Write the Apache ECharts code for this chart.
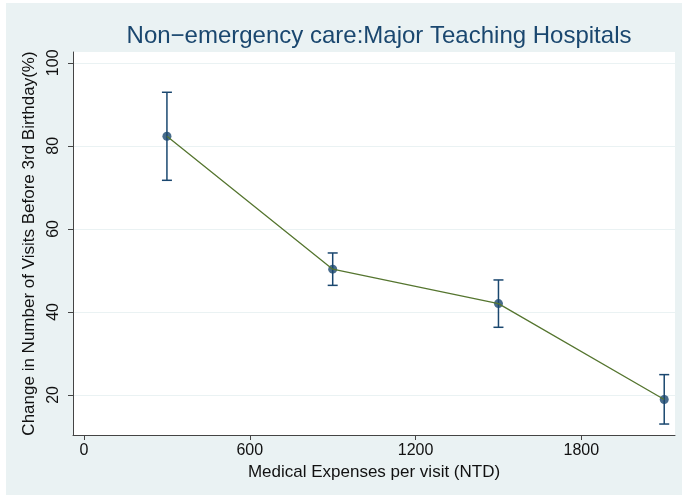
<!DOCTYPE html>
<html>
<head>
<meta charset="utf-8">
<script src="https://cdn.jsdelivr.net/npm/echarts@6/dist/echarts.min.js"></script>
<style>html,body{margin:0;padding:0;background:#fff;}#c{width:682px;height:501px;}</style>
</head>
<body>
<div id="c"></div>
<script>
var xValues = [300, 900, 1500, 2100];
var yValues = [82.3, 50.3, 42.0, 18.9];
var upperCI = [92.9, 54.2, 47.7, 24.9];
var lowerCI = [71.7, 46.4, 36.3, 13.0];
var xTicks = [0, 600, 1200, 1800];
var yTicks = [20, 40, 60, 80, 100];

var FONT = '"Liberation Sans", Arial, Helvetica, sans-serif';
var NAVY = '#1A476F';
var GREEN = '#55752F';

var pts = xValues.map(function (x, i) { return [x, yValues[i]]; });
var ci = xValues.map(function (x, i) { return [x, lowerCI[i], upperCI[i]]; });

var chart = echarts.init(document.getElementById('c'), null, {renderer: 'canvas'});
chart.setOption({
  backgroundColor: '#ffffff',
  animation: false,
  graphic: [{
    type: 'rect', z: -100, silent: true,
    shape: {x: 6, y: 3, width: 676, height: 492},
    style: {fill: '#EAF2F3'}
  }],
  title: {
    text: 'Non\u2212emergency care:Major Teaching Hospitals',
    left: 374, top: 19, textAlign: 'center',
    textStyle: {fontFamily: FONT, fontSize: 24, fontWeight: 'normal', color: NAVY}
  },
  grid: {left: 73, top: 52, right: 7, bottom: 66, show: true, backgroundColor: '#ffffff', borderWidth: 0, containLabel: false},
  xAxis: {
    type: 'value', min: -40, max: 2139,
    name: 'Medical Expenses per visit (NTD)', nameLocation: 'middle', nameGap: 24,
    nameTextStyle: {fontFamily: FONT, fontSize: 17, color: '#111'},
    axisLine: {show: true, onZero: false, lineStyle: {color: '#444', width: 1}},
    axisTick: {show: true, length: 5, customValues: xTicks, lineStyle: {color: '#444'}},
    axisLabel: {customValues: xTicks, fontFamily: FONT, fontSize: 16, color: '#111', margin: 8,
      formatter: function (v) { return String(v); }},
    splitLine: {show: false}
  },
  yAxis: {
    type: 'value', min: 10.36, max: 102.6,
    name: 'Change in Number of Visits Before 3rd Birthday(%)', nameLocation: 'middle', nameGap: 30,
    nameTextStyle: {fontFamily: FONT, fontSize: 17, color: '#111'},
    axisLine: {show: true, onZero: false, lineStyle: {color: '#444', width: 1}},
    axisTick: {show: true, length: 5, customValues: yTicks, lineStyle: {color: '#444'}},
    axisLabel: {customValues: yTicks, rotate: 90, fontFamily: FONT, fontSize: 16, color: '#111', margin: 11,
      formatter: function (v) { return String(v); }},
    splitLine: {show: true, lineStyle: {color: '#EAF2F3', width: 1}}
  },
  series: [
    {
      type: 'custom',
      data: ci,
      z: 3,
      renderItem: function (params, api) {
        var x = api.value(0);
        var lo = api.coord([x, api.value(1)]);
        var hi = api.coord([x, api.value(2)]);
        var w = 5;
        var st = {stroke: NAVY, lineWidth: 1.5};
        return {
          type: 'group',
          children: [
            {type: 'line', shape: {x1: lo[0], y1: lo[1], x2: hi[0], y2: hi[1]}, style: st},
            {type: 'line', shape: {x1: lo[0] - w, y1: lo[1], x2: lo[0] + w, y2: lo[1]}, style: st},
            {type: 'line', shape: {x1: hi[0] - w, y1: hi[1], x2: hi[0] + w, y2: hi[1]}, style: st}
          ]
        };
      }
    },
    {
      type: 'scatter', data: pts, z: 4,
      symbol: 'circle', symbolSize: 9,
      itemStyle: {color: NAVY}
    },
    {
      type: 'line', data: pts, z: 5,
      symbol: 'none',
      lineStyle: {color: GREEN, width: 1.3}
    }
  ]
});
</script>
</body>
</html>
